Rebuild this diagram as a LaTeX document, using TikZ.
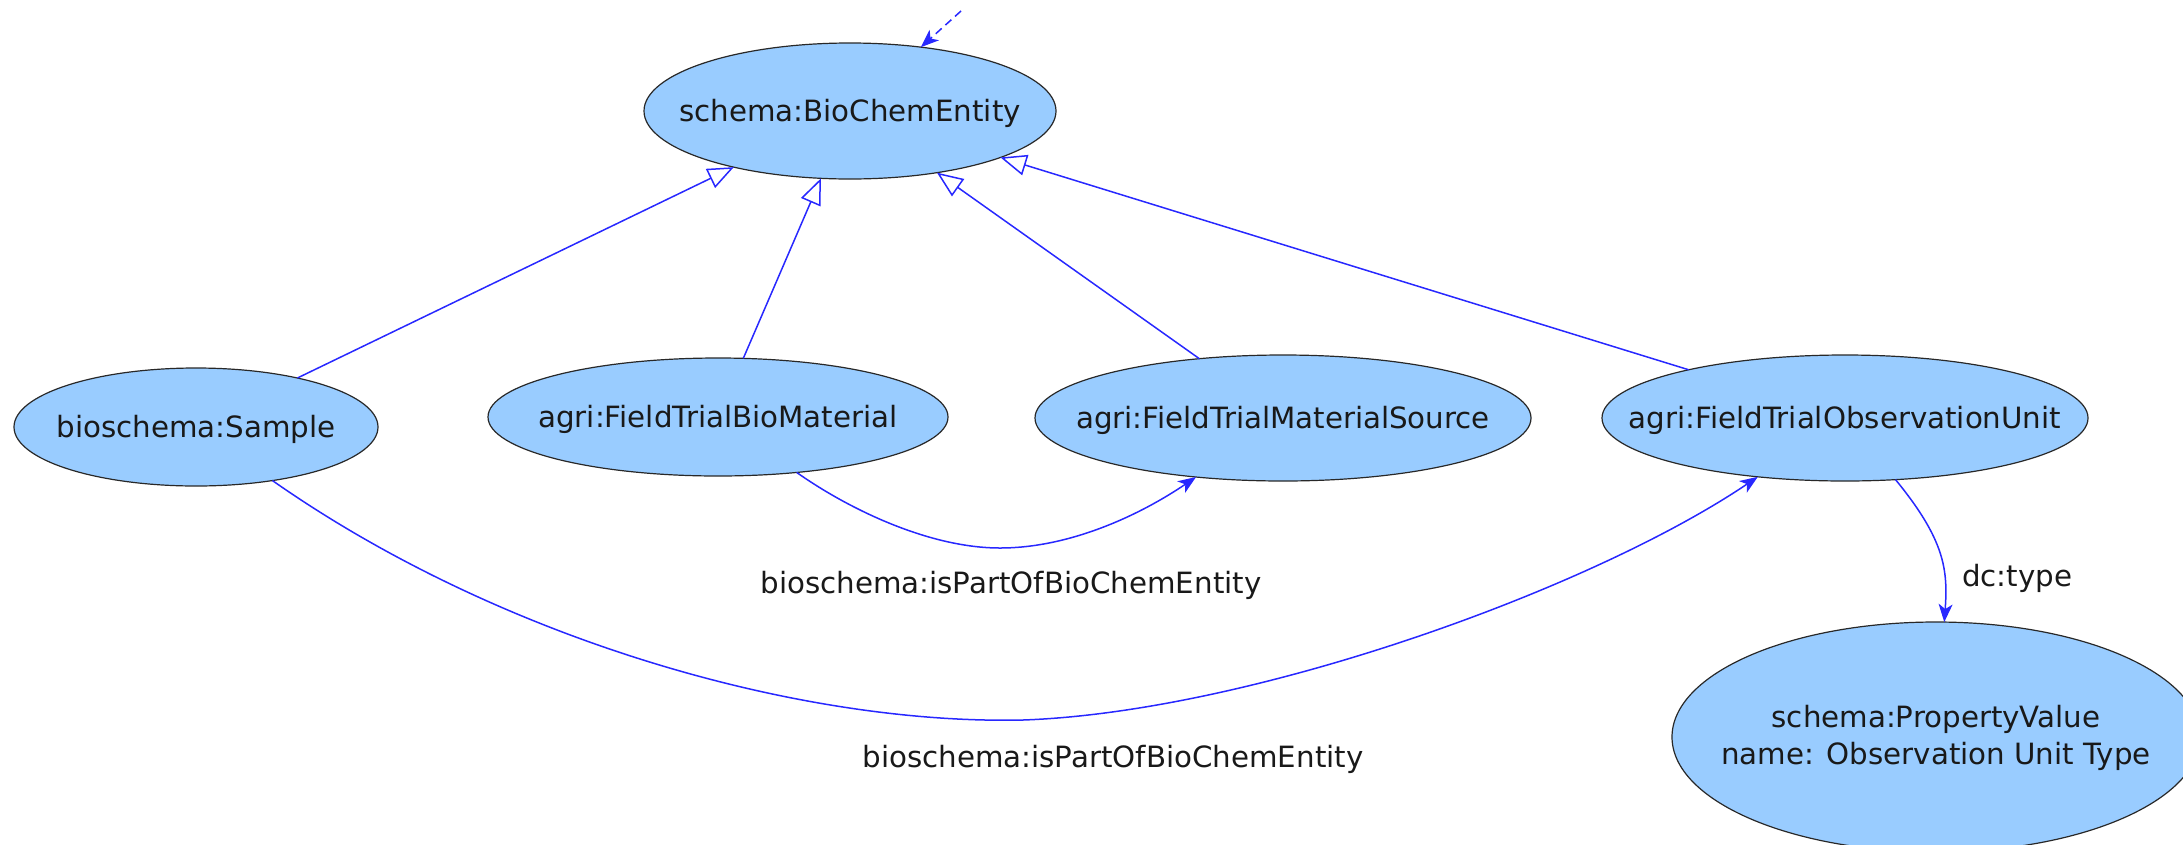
\documentclass[tikz,border=0pt]{standalone}
\usepackage{fontspec}
\setmainfont{DejaVu Sans}
\usetikzlibrary{shapes.geometric,arrows.meta}

\definecolor{nodefill}{RGB}{153,204,255}
\definecolor{nodeline}{RGB}{40,40,40}
\definecolor{edgeblue}{RGB}{40,40,255}
\definecolor{textcol}{RGB}{25,25,25}

% label centred in a zero-size box, so the ellipse keeps its given size
\newcommand{\lbl}[1]{\makebox[0pt]{\raisebox{-0.36em}[0pt][0pt]{#1}}}

\tikzset{
  cls/.style={ellipse, draw=nodeline, line width=1.2pt, fill=nodefill,
    inner sep=0pt, outer sep=0pt, text=textcol},
  isa/.style={draw=edgeblue, line width=1.5pt,
    -{Triangle[open, length=26pt, width=21pt]}},
  rel/.style={draw=edgeblue, line width=1.5pt,
    -{Stealth[length=18pt, width=14pt, inset=5pt]}},
  dashrel/.style={rel, dash pattern=on 8pt off 5pt},
  elabel/.style={inner sep=0pt, text=textcol},
  every node/.style={font=\fontsize{29.3}{37}\selectfont}
}

\begin{document}
\begin{tikzpicture}[x=1pt, y=-1pt]
  \useasboundingbox (0,0) rectangle (2183,844);

  % classes
  \node[cls, minimum width=412pt, minimum height=136pt] (bce) at (850,111)
    {\lbl{schema:BioChemEntity}};
  \node[cls, minimum width=364pt, minimum height=118pt] (sam) at (196,427)
    {\lbl{bioschema:Sample}};
  \node[cls, minimum width=460pt, minimum height=118pt] (bm) at (718,417)
    {\lbl{agri:FieldTrialBioMaterial}};
  \node[cls, minimum width=496pt, minimum height=126pt] (ms) at (1283,418)
    {\lbl{agri:FieldTrialMaterialSource}};
  \node[cls, minimum width=486pt, minimum height=126pt] (obs) at (1845,418)
    {\lbl{agri:FieldTrialObservationUnit}};
  \node[cls, minimum width=528pt, minimum height=230pt] (pv) at (1936,737)
    {\makebox[0pt]{\raisebox{-27pt}[0pt][0pt]{%
      \begin{tabular}[b]{@{}c@{}}schema:PropertyValue\\name: Observation Unit Type\end{tabular}}}};

  % incoming link from above
  \coordinate (up) at (961,11);
  \draw[dashrel] (up) -- (bce);

  % subclass links
  \draw[isa] (sam) -- (bce);
  \draw[isa] (bm) -- (bce);
  \draw[isa] (ms) -- (bce);
  \draw[isa] (obs) -- (bce);

  % part-of links
  \draw[rel] (bm) .. controls (850,510) and (930,548) .. (1000,548)
    .. controls (1070,548) and (1140,515) .. (ms);
  \draw[rel] (sam) .. controls (500,640) and (800,725) .. (1023,720)
    .. controls (1250,712) and (1590,590) .. (obs);
  \draw[rel] (obs) .. controls (1945,540) and (1948,570) .. (pv);

  % link labels
  \node[elabel] (lbm) at (1011,585) {bioschema:isPartOfBioChemEntity};
  \node[elabel] (lsam) at (1113,759) {bioschema:isPartOfBioChemEntity};
  \node[elabel] (ltype) at (2017,578) {dc:type};
\end{tikzpicture}
\end{document}
